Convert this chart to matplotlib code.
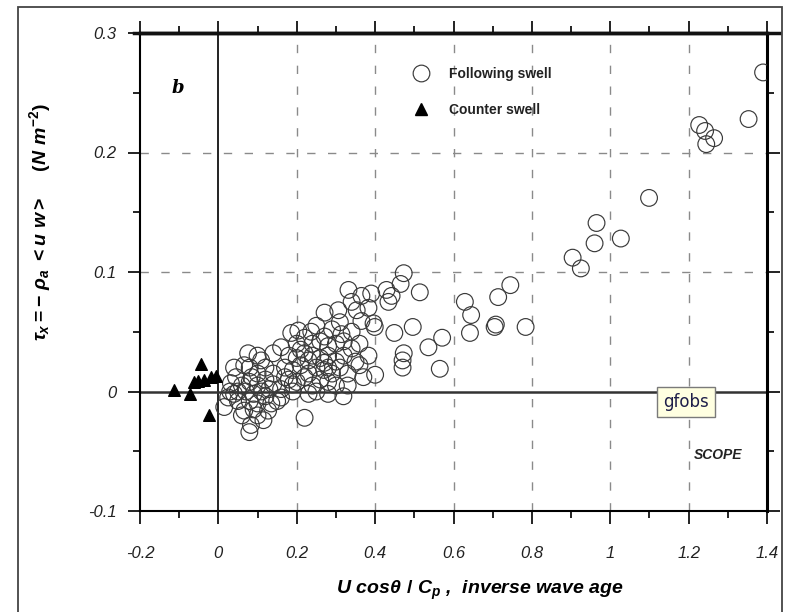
"""Wind stress vs inverse wave age, following and counter swell."""

import matplotlib
matplotlib.use('Agg')
import matplotlib.pyplot as plt
from matplotlib.lines import Line2D
from matplotlib.patches import Rectangle

plt.rcParams['font.family'] = ['Liberation Sans', 'DejaVu Sans']
plt.rcParams['mathtext.fontset'] = 'custom'
plt.rcParams['mathtext.it'] = 'Liberation Sans:bold:italic'
plt.rcParams['mathtext.rm'] = 'Liberation Sans:bold'
plt.rcParams['mathtext.bf'] = 'Liberation Sans:bold'

# following swell points (inverse wave age, stress)
follow_x = [
    1.39, 1.353, 1.227, 1.242, 1.265, 1.245,
    1.099, 0.965, 1.027, 0.960, 0.904, 0.925,
    0.784, 0.745, 0.714, 0.705, 0.708, 0.629, 0.645, 0.642,
    0.571, 0.536, 0.565, 0.514, 0.496,
    0.473, 0.465, 0.473, 0.470, 0.470,
    0.442, 0.434, 0.429, 0.449,
    0.399, 0.383, 0.400, 0.370, 0.319, 0.280,
    0.332, 0.365, 0.390, 0.340, 0.271, 0.306, 0.353, 0.383, 0.365, 0.396,
    0.204, 0.237, 0.271, 0.314, 0.340,
    0.16, 0.186, 0.20, 0.22, 0.24, 0.26, 0.28, 0.30, 0.32, 0.34, 0.36,
    0.18, 0.20, 0.22, 0.24, 0.26, 0.28, 0.30, 0.32, 0.35,
    0.17, 0.19, 0.21, 0.23, 0.25, 0.27, 0.29, 0.31, 0.33,
    0.18, 0.20, 0.22, 0.24, 0.26, 0.28, 0.30,
    0.16, 0.19, 0.23, 0.22,
    0.076, 0.109, 0.14, 0.066, 0.032, 0.015, 0.05, 0.066, 0.083, 0.079,
    0.10, 0.127, 0.115, 0.135, 0.16, 0.15,
    0.06, 0.08, 0.10, 0.12, 0.07, 0.09, 0.11, 0.13, 0.085, 0.10,
    0.12, 0.14, 0.045, 0.04, 0.08, 0.10, 0.05, 0.025,
    0.25, 0.29, 0.31, 0.27, 0.23, 0.21, 0.03, 0.06, 0.09, 0.12,
    0.14, 0.17, 0.08, 0.10, 0.04, 0.19, 0.25, 0.33, 0.28, 0.36,
]
follow_y = [
    0.267, 0.228, 0.223, 0.218, 0.212, 0.207,
    0.162, 0.141, 0.128, 0.124, 0.112, 0.103,
    0.054, 0.089, 0.079, 0.054, 0.056, 0.075, 0.064, 0.049,
    0.045, 0.037, 0.019, 0.083, 0.054,
    0.099, 0.090, 0.032, 0.026, 0.020,
    0.080, 0.075, 0.085, 0.049,
    0.054, 0.030, 0.014, 0.012, -0.004, -0.002,
    0.085, 0.080, 0.082, 0.075, 0.066, 0.068, 0.068, 0.070, 0.059, 0.057,
    0.051, 0.050, 0.046, 0.048, 0.050,
    0.037, 0.049, 0.040, 0.045, 0.040, 0.042, 0.038, 0.040, 0.042, 0.036, 0.040,
    0.030, 0.028, 0.032, 0.030, 0.028, 0.030, 0.025, 0.030, 0.025,
    0.020, 0.018, 0.022, 0.015, 0.020, 0.018, 0.015, 0.020, 0.015,
    0.010, 0.008, 0.012, 0.005, 0.010, 0.008, 0.005,
    0.002, 0.000, -0.002, -0.022,
    0.032, 0.026, 0.032, 0.022, 0.007, -0.013, -0.008, -0.016, -0.028, -0.034,
    -0.020, -0.016, -0.024, -0.010, -0.005, -0.008,
    0.005, 0.008, 0.005, 0.010, 0.000, -0.002, 0.000, 0.002, 0.012, 0.015,
    0.020, 0.015, 0.012, -0.002, -0.008, -0.010, 0.000, -0.005,
    0.055, 0.052, 0.058, 0.024, 0.026, 0.035, 0.000, -0.020, -0.015, -0.004,
    0.006, 0.012, 0.020, 0.030, 0.020, 0.006, 0.000, 0.005, 0.020, 0.022,
]

# counter swell points
counter_x = [-0.045, -0.114, -0.073, -0.063, -0.053, -0.037, -0.019, -0.006, -0.024]
counter_y = [0.023, 0.001, -0.002, 0.008, 0.009, 0.010, 0.012, 0.013, -0.020]

x_ticks = [-0.2, 0, 0.2, 0.4, 0.6, 0.8, 1, 1.2, 1.4]
x_ticklabels = ['-0.2', '0', '0.2', '0.4', '0.6', '0.8', '1', '1.2', '1.4']
y_ticks = [-0.1, 0, 0.1, 0.2, 0.3]
y_ticklabels = ['-0.1', '0', '0.1', '0.2', '0.3']

fig = plt.figure(figsize=(7.9, 6.12), dpi=100)
fig.patch.set_facecolor('white')
ax = fig.add_axes([140 / 790, 101 / 612, 627 / 790, 478 / 612])

# outer frame of the picture
fig.patches.append(Rectangle((18 / 790, -0.01), 764 / 790, 1 - 7 / 612 + 0.01,
                             transform=fig.transFigure, fill=False,
                             edgecolor='#444444', linewidth=1.3))

ax.set_xlim(-0.2, 1.4)
ax.set_ylim(-0.1, 0.3)

# dashed grid
for gx in [0.2, 0.4, 0.6, 0.8, 1.0, 1.2]:
    ax.axvline(gx, color='#8a8a8a', linewidth=1.0, linestyle=(0, (6, 9)), zorder=0)
for gy in [0.1, 0.2]:
    ax.axhline(gy, color='#8a8a8a', linewidth=1.0, linestyle=(0, (6, 9)), zorder=0)
ax.axvline(0, color='#222222', linewidth=1.4, zorder=1)
ax.axhline(0, color='#333333', linewidth=1.8, zorder=1)

ax.scatter(follow_x, follow_y, s=145, facecolors='none', edgecolors='#3a3a3a',
           linewidths=0.85, zorder=3)
ax.scatter(counter_x, counter_y, s=70, marker='^', color='black', zorder=4)

ax.set_xticks(x_ticks)
ax.set_xticklabels(x_ticklabels)
ax.set_yticks(y_ticks)
ax.set_yticklabels(y_ticklabels)
ax.set_xticks([-0.1, 0.1, 0.3, 0.5, 0.7, 0.9, 1.1, 1.3], minor=True)
ax.set_yticks([-0.05, 0.05, 0.15, 0.25], minor=True)
ax.tick_params(which='both', direction='out', top=True, right=True,
               colors='#111111', width=1.3)
ax.tick_params(which='major', length=9, labelsize=12, pad=8)
ax.tick_params(axis='x', which='major', pad=16)
ax.tick_params(which='minor', length=5)
for lab in ax.get_xticklabels() + ax.get_yticklabels():
    lab.set_fontstyle('italic')
    lab.set_color('#222222')

ax.spines['left'].set_linewidth(1.5)
ax.spines['bottom'].set_linewidth(1.5)
ax.spines['top'].set_linewidth(2.5)
ax.spines['right'].set_linewidth(2.2)
fig.lines.append(Line2D([134 / 790, 779 / 790], [1 - 33 / 612, 1 - 33 / 612],
                        transform=fig.transFigure, color='#111111', linewidth=2.5))

fig.text(480 / 790, 1 - 590 / 612, r'$U\ cos\theta\ /\ C_p$ ,  inverse wave age',
         fontsize=14, fontweight='bold', fontstyle='italic', ha='center', va='center')
fig.text(40 / 790, 1 - 222 / 612,
         r'$\tau_x = -\ \rho_a\ <u\ w>\quad\ (N\ m^{-2})$',
         fontsize=14, rotation=90, ha='center', va='center')

ax.text(0.06, 0.885, 'b', transform=ax.transAxes, fontsize=13,
        fontweight='bold', fontstyle='italic', family='DejaVu Serif',
        ha='center', va='center')
ax.text(0.96, 0.118, 'SCOPE', transform=ax.transAxes, fontsize=10,
        fontweight='bold', fontstyle='italic', ha='right', va='center', color='#222222')

handles = [
    Line2D([0], [0], marker='o', linestyle='', markersize=12,
           markerfacecolor='none', markeredgecolor='#3a3a3a', markeredgewidth=0.85,
           label='Following swell'),
    Line2D([0], [0], marker='^', linestyle='', markersize=9, color='black',
           label='Counter swell'),
]
leg = ax.legend(handles=handles, loc='upper left', bbox_to_anchor=(0.415, 0.955),
                frameon=False, fontsize=10, labelspacing=1.55, handletextpad=1.4,
                handlelength=1.2)
for t in leg.get_texts():
    t.set_fontweight('bold')
    t.set_color('#222222')

# tooltip-like box
fig.text(686 / 790, 1 - 402 / 612, 'gfobs', fontsize=12, family='DejaVu Sans',
         color='#1f1f4a', ha='center', va='center', zorder=10,
         bbox=dict(boxstyle='square,pad=0.35', facecolor='#ffffe1',
                   edgecolor='#7a7a7a', linewidth=1.0))

plt.savefig('out.png', dpi=100, facecolor='white')
plt.close()
